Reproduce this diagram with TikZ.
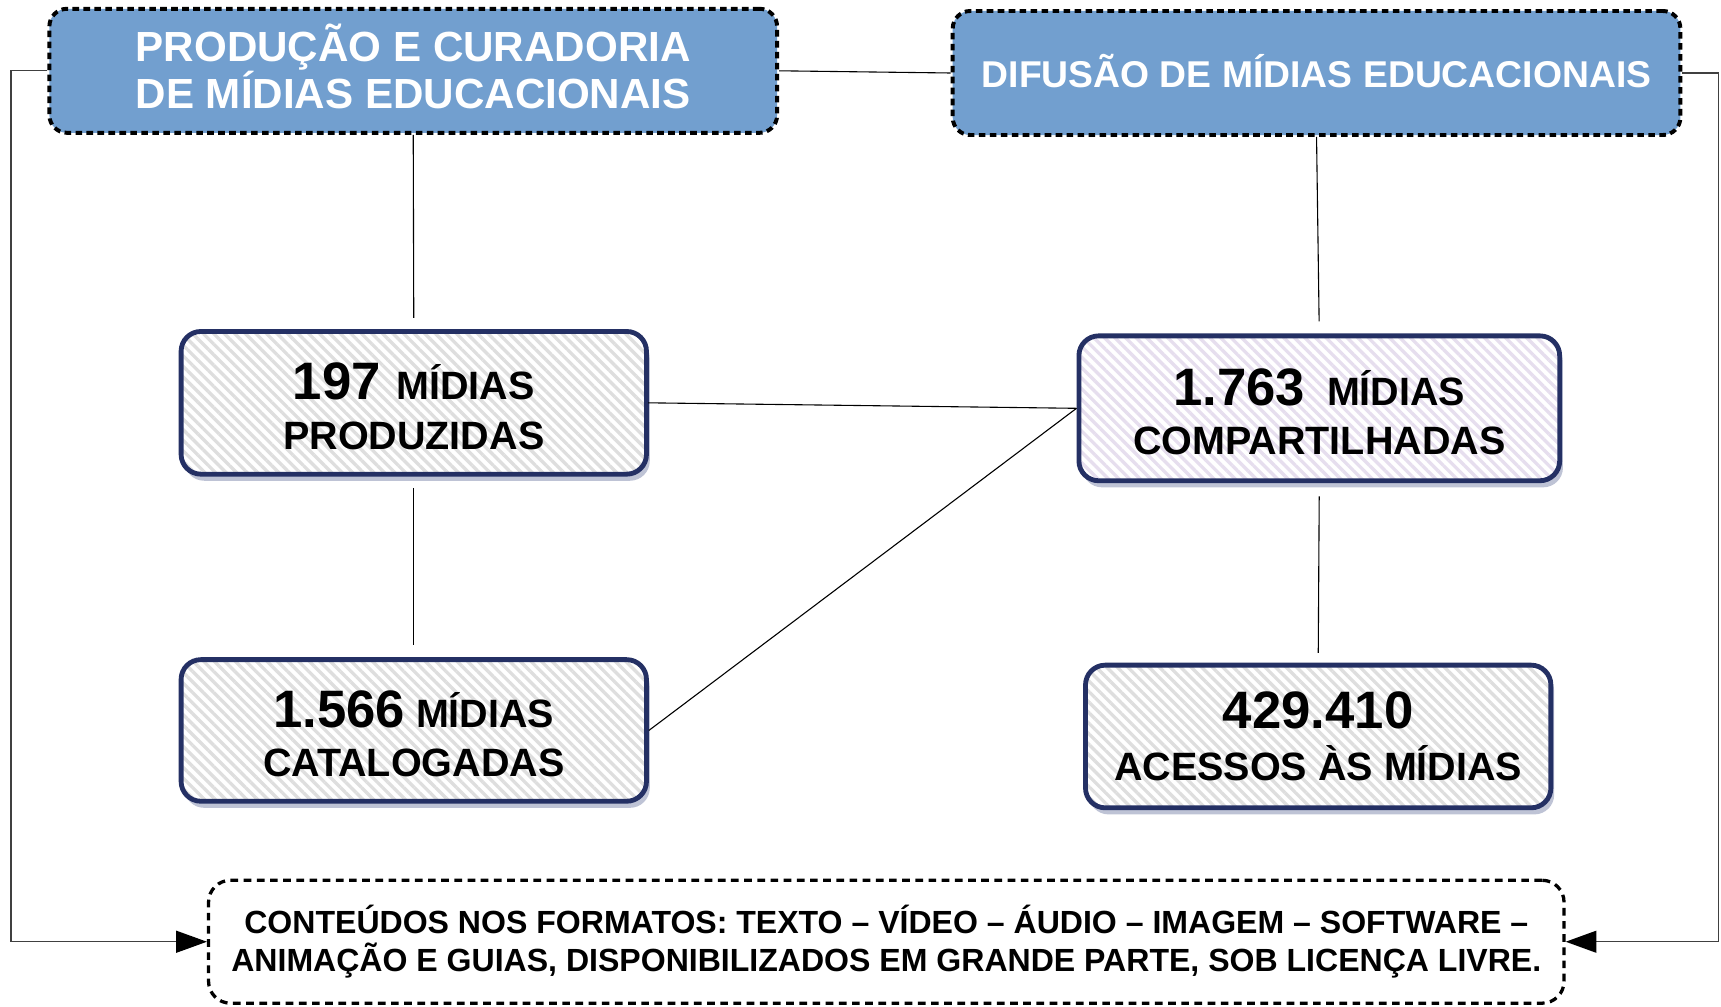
\documentclass[tikz,border=0pt]{standalone}
\usepackage{fontspec}
\setmainfont{Liberation Sans}
\usetikzlibrary{patterns.meta,shadows,arrows.meta}
\definecolor{topblue}{RGB}{114,159,207}
\definecolor{navy}{RGB}{36,48,100}
\definecolor{stripe}{RGB}{222,222,222}
\definecolor{stripep}{RGB}{230,222,238}
\definecolor{shadowc}{RGB}{125,135,172}
\begin{document}
\begin{tikzpicture}[x=0.5pt,y=-0.5pt,
  topbox/.style={draw=black, line width=1.8pt, dash pattern=on 3pt off 2pt, fill=topblue,
    rounded corners=8pt, text=white, align=center, inner sep=0pt},
  statbox/.style={draw=navy, line width=2.2pt, rounded corners=9pt, align=center, inner sep=0pt,
    drop shadow={shadow xshift=1.5pt, shadow yshift=-3pt, fill=shadowc, opacity=0.5},
    preaction={fill=white},
    pattern={Lines[angle=-45,distance=3.4pt,line width=1.5pt]}, pattern color=stripe,
    font=\bfseries\fontsize{18}{22.5}\selectfont},
  botbox/.style={draw=black, line width=1.5pt, dash pattern=on 3.5pt off 2.5pt, fill=white,
    rounded corners=10pt, align=center, inner sep=0pt,
    font=\bfseries\fontsize{14.6}{17.5}\selectfont},
  thin/.style={draw=black, line width=0.5pt},
  outer/.style={draw=black!75, line width=0.6pt},
  arr/.style={-{Triangle[length=14pt,width=10pt,black]}}
]
\useasboundingbox (0,0) rectangle (1568,917);

\node[topbox, minimum width=331.5pt, minimum height=56.5pt,
  font=\bfseries\fontsize{19.2}{21.5}\selectfont] (tl) at (376.5,64.5)
  {PRODUÇÃO E CURADORIA\\DE MÍDIAS EDUCACIONAIS\rule[-4pt]{0pt}{1pt}};
\node[topbox, minimum width=331.5pt, minimum height=56.5pt,
  font=\bfseries\fontsize{17}{20}\selectfont] (tr) at (1199.5,66.5)
  {DIFUSÃO DE MÍDIAS EDUCACIONAIS\rule[-2pt]{0pt}{1pt}};

\node[statbox, minimum width=212pt, minimum height=65pt] (b1) at (377,367)
  {\rule{0pt}{20pt}{\fontsize{24}{22.5}\selectfont 197}\hspace{0.4em}MÍDIAS\\PRODUZIDAS};
\node[statbox, pattern color=stripep, minimum width=219pt, minimum height=66pt] (b2) at (1202,372)
  {\rule{0pt}{20pt}{\fontsize{24}{22.5}\selectfont 1.763}\ \ MÍDIAS\\COMPARTILHADAS};
\node[statbox, minimum width=212pt, minimum height=64.5pt] (b3) at (377,665.5)
  {\rule{0pt}{20pt}{\fontsize{24}{22.5}\selectfont 1.566} MÍDIAS\\CATALOGADAS};
\node[statbox, minimum width=212pt, minimum height=65pt, font=\bfseries\fontsize{18}{23.5}\selectfont] (b4) at (1201,671)
  {{\fontsize{24}{23.5}\selectfont 429.410}\\ACESSOS ÀS MÍDIAS};

\node[botbox, minimum width=617.5pt, minimum height=56pt] (bot) at (807.5,858)
  {CONTEÚDOS NOS FORMATOS: TEXTO – VÍDEO – ÁUDIO – IMAGEM – SOFTWARE –\\ANIMAÇÃO E GUIAS, DISPONIBILIZADOS EM GRANDE PARTE, SOB LICENÇA LIVRE.};

\coordinate (lc) at (10,64.5);
\coordinate (rc) at (1566,66.5);

\draw[thin] (tl.east) -- (tr.west);
\draw[thin, shorten >=5.5pt] (tl.south) -- (b1.north);
\draw[thin, shorten <=5.5pt, shorten >=5.5pt] (b1.south) -- (b3.north);
\draw[thin, shorten >=5.5pt] (tr.south) -- (b2.north);
\draw[thin, shorten <=6pt, shorten >=4.5pt] (b2.south) -- (b4.north);
\draw[thin] (b1.east) -- (b2.west);
\draw[thin] (b3.east) -- (b2.west);

\draw[outer, arr] (tl.west) -- (lc) |- (bot.west);
\draw[outer, arr] (tr.east) -- (rc) |- (bot.east);
\end{tikzpicture}
\end{document}
